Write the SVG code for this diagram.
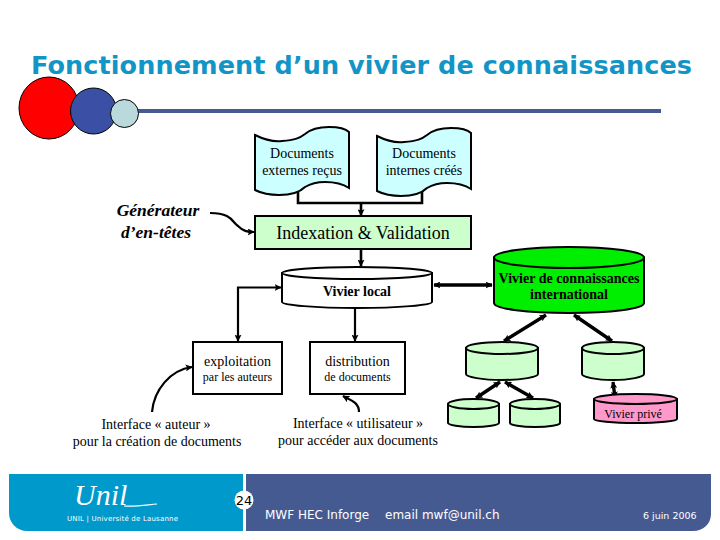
<svg xmlns="http://www.w3.org/2000/svg" width="720" height="540" viewBox="0 0 720 540">
<style>
.t{font-family:"Liberation Serif","Times New Roman",serif;fill:#000;text-anchor:middle}
.s{font-family:"DejaVu Sans",Verdana,sans-serif;fill:#fff}
.o{stroke:#000;stroke-width:2}
.c{fill:none;stroke:#000;stroke-width:2.2}
.h{fill:none;stroke:#000;stroke-width:2.6}
.w{fill:none;stroke:#000;stroke-width:3.4}
</style>
<defs>
<marker id="a" viewBox="0 0 10 10" refX="9" refY="5" markerWidth="7" markerHeight="7" markerUnits="userSpaceOnUse" orient="auto-start-reverse"><path d="M0 0L10 5L0 10L2 5Z" fill="#000"/></marker>
<path id="doc" d="M0 8C8 12 18 15 27 14C40 13 45 11 50 7C57 1 66 0 74 0C82 0 90 1 94 5V61C88 57 80 55 70 55C60 55 55 57 50 60C44 66 35 68 24 68C14 68 6 66 0 63Z"/>
</defs>
<rect width="720" height="540" fill="#fff"/>
<g id="title-decor">
<rect x="130" y="109" width="531" height="4" fill="#465a92"/>
<ellipse cx="49" cy="108" rx="30" ry="31" fill="#f00" stroke="#000" stroke-width="1"/>
<circle cx="93.500" cy="111" r="23" fill="#3b50a5" stroke="#000" stroke-width="1"/>
<circle cx="124.500" cy="113.500" r="14" fill="#b9d9dc" stroke="#000" stroke-width="1"/>
<text x="31" y="74" font-family="'DejaVu Sans',Verdana,sans-serif" font-weight="700" font-size="25.500" fill="#1295c6" textLength="661" lengthAdjust="spacing">Fonctionnement d’un vivier de connaissances</text>
</g>
<g id="connectors">
<path class="h" d="M298 192V203H422V190"/>
<path class="h" d="M361 203V215.500" marker-end="url(#a)"/>
<path class="h" d="M361 249V266" marker-end="url(#a)"/>
<path class="w" d="M434 285H492" marker-start="url(#a)" marker-end="url(#a)"/>
<path class="c" d="M238 341V287.500H281" marker-start="url(#a)" marker-end="url(#a)"/>
<path class="c" d="M355 308V341" marker-end="url(#a)"/>
<path class="c" d="M210 213C232 213 232 222 238 226C243 231 247 232 254 232" marker-end="url(#a)"/>
<path class="c" d="M152 412C154 390 170 370 192 367" marker-end="url(#a)"/>
<path class="c" d="M359 412C359 402 350 400 343 396" marker-end="url(#a)"/>
<path class="w" d="M546 315L504 341" marker-start="url(#a)" marker-end="url(#a)"/>
<path class="w" d="M574 315L612 341" marker-start="url(#a)" marker-end="url(#a)"/>
<path class="w" d="M500 382L476 398" marker-start="url(#a)" marker-end="url(#a)"/>
<path class="w" d="M505 382L533 398" marker-start="url(#a)" marker-end="url(#a)"/>
<path class="w" d="M613 382L615 398" marker-start="url(#a)" marker-end="url(#a)"/>
</g>
<g id="doc-externes">
<use href="#doc" x="255" y="127" fill="#ccffff" class="o"/>
<text class="t" font-size="14" x="302" y="158">Documents</text>
<text class="t" font-size="14" x="302" y="175">externes reçus</text>
</g>
<g id="doc-internes">
<use href="#doc" x="377" y="128" fill="#ccffff" class="o"/>
<text class="t" font-size="14" x="424" y="158">Documents</text>
<text class="t" font-size="14" x="424" y="175">internes créés</text>
</g>
<g id="generateur">
<text class="t" font-size="17.500" font-weight="700" font-style="italic" x="158" y="216">Générateur</text>
<text class="t" font-size="17.500" font-weight="700" font-style="italic" x="156" y="238">d’en-têtes</text>
</g>
<g id="indexation">
<rect x="255" y="216" width="216" height="33" fill="#ccffcc" class="o"/>
<text class="t" font-size="18" x="363" y="239">Indexation &amp; Validation</text>
</g>
<g id="vivier-local">
<path d="M282 273V302C282 305 315 308 357 308S432 305 432 302V273Z" fill="#fff" class="o"/>
<ellipse cx="357" cy="273" rx="75" ry="6" fill="#fff" class="o"/>
<text class="t" font-size="14" font-weight="700" x="357" y="296">Vivier local</text>
</g>
<g id="vivier-international">
<path d="M494 257.500V303C494 309 528 313 569 313S644 309 644 303V257.500Z" fill="#00ee00" class="o"/>
<ellipse cx="569" cy="257.500" rx="75" ry="10.500" fill="#00ee00" class="o"/>
<text class="t" font-size="14" font-weight="700" x="569" y="283">Vivier de connaissances</text>
<text class="t" font-size="14" font-weight="700" x="569" y="299">international</text>
</g>
<g id="exploitation">
<rect x="193" y="342" width="89" height="52" fill="#fff" class="o"/>
<text class="t" font-size="14" x="237.500" y="366">exploitation</text>
<text class="t" font-size="12" x="237.500" y="381">par les auteurs</text>
</g>
<g id="distribution">
<rect x="310" y="342" width="95" height="52" fill="#fff" class="o"/>
<text class="t" font-size="14" x="357.500" y="366">distribution</text>
<text class="t" font-size="12" x="357.500" y="381">de documents</text>
</g>
<g id="vivier-a">
<path d="M466 348V374C466 377 482 380 502 380S538 377 538 374V348Z" fill="#ccffcc" class="o"/>
<ellipse cx="502" cy="348" rx="36" ry="6" fill="#ccffcc" class="o"/>
</g>
<g id="vivier-b">
<path d="M582 348V374C582 377 596 380 613 380S644 377 644 374V348Z" fill="#ccffcc" class="o"/>
<ellipse cx="613" cy="348" rx="31" ry="6" fill="#ccffcc" class="o"/>
</g>
<g id="vivier-c">
<path d="M448 404V423C448 425 460 427 473.500 427S499 425 499 423V404Z" fill="#ccffcc" class="o"/>
<ellipse cx="473.500" cy="404" rx="25.500" ry="5" fill="#ccffcc" class="o"/>
</g>
<g id="vivier-d">
<path d="M510 404V423C510 425 521 427 535 427S560 425 560 423V404Z" fill="#ccffcc" class="o"/>
<ellipse cx="535" cy="404" rx="25" ry="5" fill="#ccffcc" class="o"/>
</g>
<g id="vivier-prive">
<path d="M594 399V419C594 421 612 423 635.500 423S677 421 677 419V399Z" fill="#ff99cc" class="o"/>
<ellipse cx="635.500" cy="399" rx="41.500" ry="5" fill="#ff99cc" class="o"/>
<text class="t" font-size="12" x="633" y="418">Vivier privé</text>
</g>
<g id="interface-auteur">
<text class="t" font-size="14" x="156" y="429">Interface « auteur »</text>
<text class="t" font-size="14" x="157" y="446">pour la création de documents</text>
</g>
<g id="interface-utilisateur">
<text class="t" font-size="14" x="358" y="428">Interface « utilisateur »</text>
<text class="t" font-size="14" x="358" y="445">pour accéder aux documents</text>
</g>
<g id="footer">
<path d="M9 474H243V531H27C17 531 9 523 9 513Z" fill="#0099cc"/>
<path d="M246 474H711V514C711 524 703 531 693 531H246Z" fill="#465a92"/>
<text x="74" y="505" font-family="'Liberation Serif',serif" font-style="italic" font-size="30" fill="#fff">Unil</text>
<path d="M124 506C135 507 146 505 157 504" fill="none" stroke="#fff" stroke-width="1.200"/>
<text class="s" x="67" y="521" font-size="7" textLength="111">UNIL | Université de Lausanne</text>
<circle cx="244" cy="500" r="9.500" fill="#fff"/>
<text x="244" y="505" font-family="'DejaVu Sans',Verdana,sans-serif" font-size="13" fill="#000" text-anchor="middle">24</text>
<text class="s" x="265" y="519" font-size="12">MWF HEC Inforge</text>
<text class="s" x="385" y="519" font-size="12">email mwf@unil.ch</text>
<text class="s" x="643" y="519" font-size="9.500">6 juin 2006</text>
</g>
</svg>
